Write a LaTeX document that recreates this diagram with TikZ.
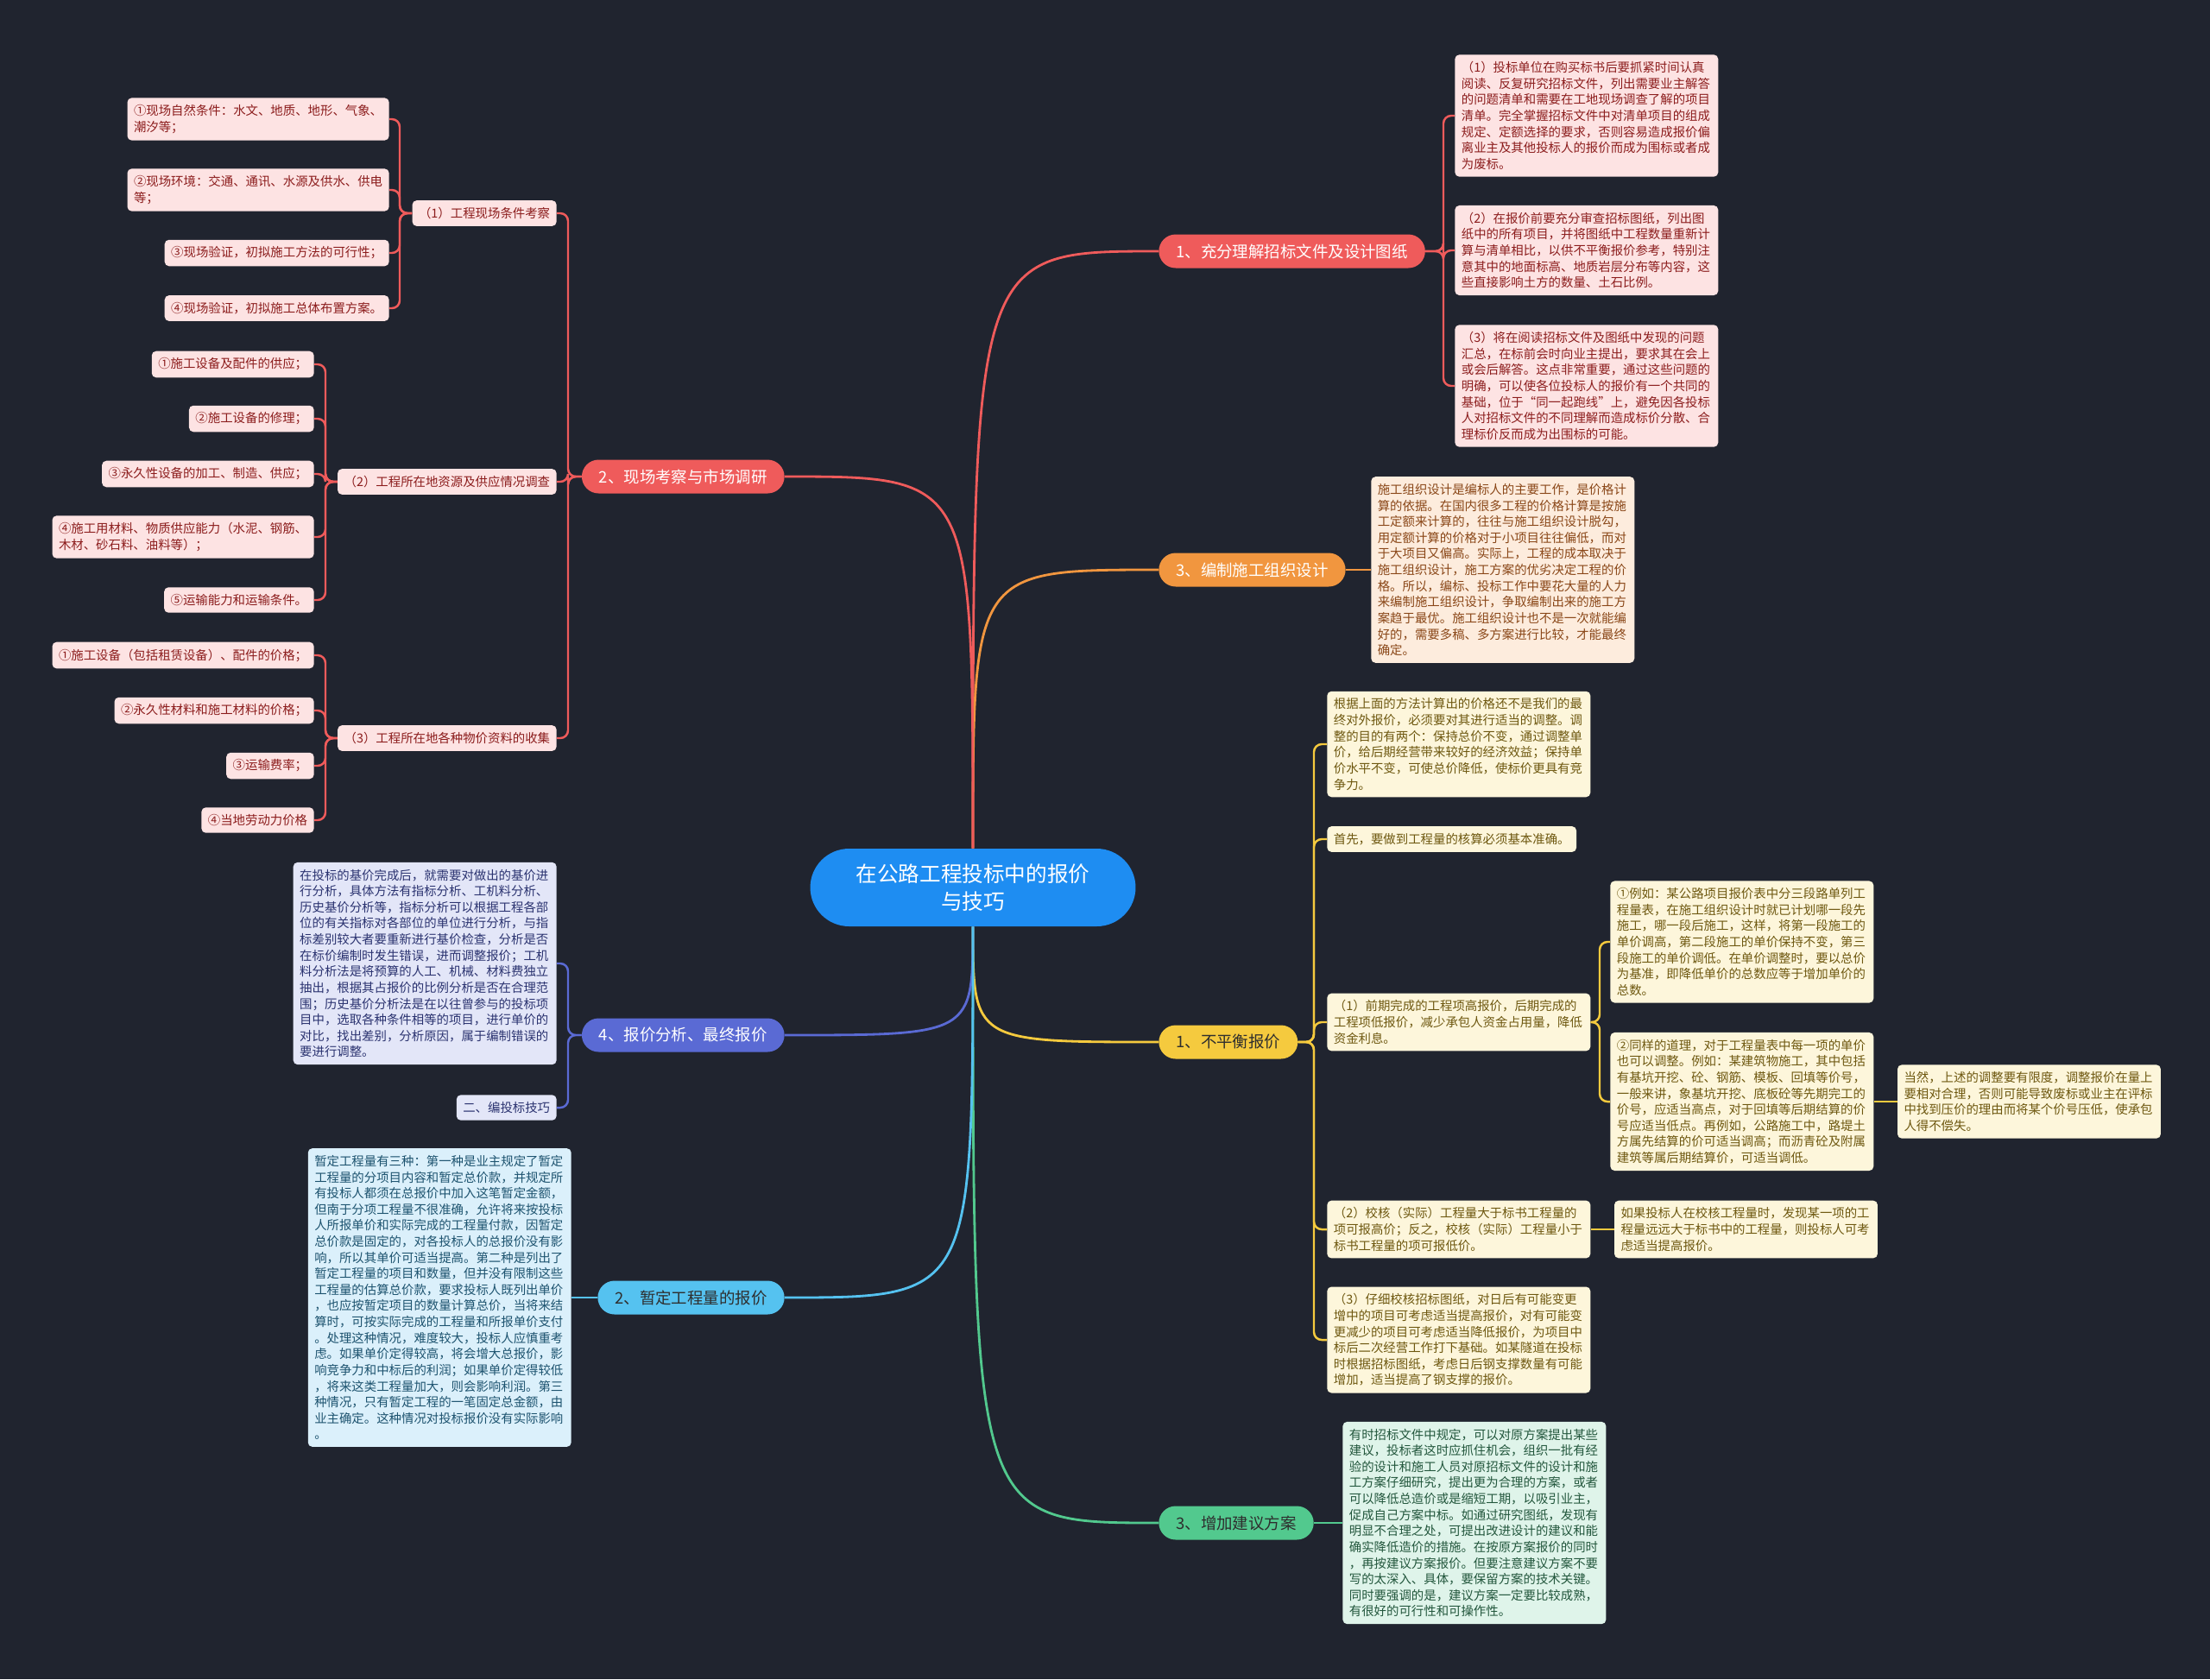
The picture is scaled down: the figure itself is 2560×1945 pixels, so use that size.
\documentclass[tikz,border=0pt]{standalone}
\usepackage{fontspec}
\setmainfont{Noto Sans CJK SC}
\usetikzlibrary{positioning, calc}

\definecolor{fondo}{HTML}{20242F}
\definecolor{azulC}{HTML}{1E8DF2}
\definecolor{rojoC}{HTML}{EF5B5B}
\definecolor{naranjaC}{HTML}{F1963F}
\definecolor{amarilloC}{HTML}{F5CA3E}
\definecolor{verdeC}{HTML}{52C98E}
\definecolor{indigoC}{HTML}{5A6AD4}
\definecolor{celesteC}{HTML}{55C2F0}
\definecolor{oscuroT}{HTML}{2E2E2E}
\definecolor{rosaF}{HTML}{FDE3E3}
\definecolor{rosaT}{HTML}{8C1D1D}
\definecolor{melocotonF}{HTML}{FDECDD}
\definecolor{melocotonT}{HTML}{8A4718}
\definecolor{cremaF}{HTML}{FDF6DB}
\definecolor{cremaT}{HTML}{6E5810}
\definecolor{mentaF}{HTML}{DFF4EA}
\definecolor{mentaT}{HTML}{23573D}
\definecolor{lavandaF}{HTML}{E3E6F8}
\definecolor{lavandaT}{HTML}{2B3370}
\definecolor{cieloF}{HTML}{DBF0FB}
\definecolor{cieloT}{HTML}{1D536F}

\tikzset{
	rama/.style={rounded corners=0.39cm, minimum height=0.78cm, inner xsep=0.4cm, inner ysep=0pt, font=\fontsize{10.5}{12}\selectfont},
	caja/.style={rounded corners=0.1cm, inner xsep=0.15cm, inner ysep=0.16cm, align=left, font=\fontsize{8.2}{10.6}\selectfont},
	ancha/.style={caja, text width=5.8cm},
	rosa/.style={caja, fill=rosaF, text=rosaT},
	melocoton/.style={ancha, fill=melocotonF, text=melocotonT},
	crema/.style={caja, fill=cremaF, text=cremaT},
	menta/.style={ancha, fill=mentaF, text=mentaT},
	lavanda/.style={caja, fill=lavandaF, text=lavandaT},
	cielo/.style={ancha, fill=cieloF, text=cieloT},
	enlace/.style={line width=1.4pt, rounded corners=0.18cm},
	curva/.style={line width=1.6pt}
}

\begin{document}
\begin{tikzpicture}[x=0.02cm, y=-0.02cm]
	
	\fill[fondo] (0,0) rectangle (2560,1945);
	\useasboundingbox (0,0) rectangle (2560,1945);
	
	% Nodo central
	\node[fill=azulC, text=white, rounded corners=0.9cm, minimum width=7.54cm, minimum height=1.8cm, align=center, font=\fontsize{14}{18.5}\selectfont] (C) at (1127,1028) {在公路工程投标中的报价\\与技巧};
	
	% Ramas derechas
	\node[rama, fill=rojoC, text=white, anchor=west] (R1) at (1342,291) {1、充分理解招标文件及设计图纸};
	\node[rama, fill=naranjaC, text=white, anchor=west] (R2) at (1342,660) {3、编制施工组织设计};
	\node[rama, fill=amarilloC, text=oscuroT, anchor=west] (R3) at (1342,1207) {1、不平衡报价};
	\node[rama, fill=verdeC, text=oscuroT, anchor=west] (R4) at (1342,1764) {3、增加建议方案};
	
	% Ramas izquierdas
	\node[rama, fill=rojoC, text=white, anchor=east] (L1) at (909,552) {2、现场考察与市场调研};
	\node[rama, fill=indigoC, text=white, anchor=east] (L2) at (909,1199) {4、报价分析、最终报价};
	\node[rama, fill=celesteC, text=oscuroT, anchor=east] (L3) at (909,1503) {2、暂定工程量的报价};
	
	% Rama 1: cajas
	\node[rosa, text width=5.8cm, anchor=west] (R1a) at (1685,134) {（1）投标单位在购买标书后要抓紧时间认真\\阅读、反复研究招标文件，列出需要业主解答\\的问题清单和需要在工地现场调查了解的项目\\清单。完全掌握招标文件中对清单项目的组成\\规定、定额选择的要求，否则容易造成报价偏\\离业主及其他投标人的报价而成为围标或者成\\为废标。};
	\node[rosa, text width=5.8cm, anchor=west] (R1b) at (1685,290) {（2）在报价前要充分审查招标图纸，列出图\\纸中的所有项目，并将图纸中工程数量重新计\\算与清单相比，以供不平衡报价参考，特别注\\意其中的地面标高、地质岩层分布等内容，这\\些直接影响土方的数量、土石比例。};
	\node[rosa, text width=5.8cm, anchor=west] (R1c) at (1685,447) {（3）将在阅读招标文件及图纸中发现的问题\\汇总，在标前会时向业主提出，要求其在会上\\或会后解答。这点非常重要，通过这些问题的\\明确，可以使各位投标人的报价有一个共同的\\基础，位于“同一起跑线”上，避免因各投标\\人对招标文件的不同理解而造成标价分散、合\\理标价反而成为出围标的可能。};
	
	% Rama 3: organizacion
	\node[melocoton, right=0.58cm of R2] (R2a) {施工组织设计是编标人的主要工作，是价格计\\算的依据。在国内很多工程的价格计算是按施\\工定额来计算的，往往与施工组织设计脱勾，\\用定额计算的价格对于小项目往往偏低，而对\\于大项目又偏高。实际上，工程的成本取决于\\施工组织设计，施工方案的优劣决定工程的价\\格。所以，编标、投标工作中要花大量的人力\\来编制施工组织设计，争取编制出来的施工方\\案趋于最优。施工组织设计也不是一次就能编\\好的，需要多稿、多方案进行比较，才能最终\\确定。};
	
	% Rama no balanceada
	\node[crema, text width=5.8cm, anchor=west] (R3a) at (1537,862) {根据上面的方法计算出的价格还不是我们的最\\终对外报价，必须要对其进行适当的调整。调\\整的目的有两个：保持总价不变，通过调整单\\价，给后期经营带来较好的经济效益；保持单\\价水平不变，可使总价降低，使标价更具有竞\\争力。};
	\node[crema, anchor=west] (R3b) at (1537,972) {首先，要做到工程量的核算必须基本准确。};
	\node[crema, text width=5.8cm, anchor=west] (R3c) at (1537,1184) {（1）前期完成的工程项高报价，后期完成的\\工程项低报价，减少承包人资金占用量，降低\\资金利息。};
	\node[crema, text width=5.8cm, anchor=west] (R3d) at (1537,1424) {（2）校核（实际）工程量大于标书工程量的\\项可报高价；反之，校核（实际）工程量小于\\标书工程量的项可报低价。};
	\node[crema, text width=5.8cm, anchor=west] (R3e) at (1537,1552) {（3）仔细校核招标图纸，对日后有可能变更\\增中的项目可考虑适当提高报价，对有可能变\\更减少的项目可考虑适当降低报价，为项目中\\标后二次经营工作打下基础。如某隧道在投标\\时根据招标图纸，考虑日后钢支撑数量有可能\\增加，适当提高了钢支撑的报价。};
	\node[crema, text width=5.8cm, anchor=west] (R3c1) at (1865,1091) {①例如：某公路项目报价表中分三段路单列工\\程量表，在施工组织设计时就已计划哪一段先\\施工，哪一段后施工，这样，将第一段施工的\\单价调高，第二段施工的单价保持不变，第三\\段施工的单价调低。在单价调整时，要以总价\\为基准，即降低单价的总数应等于增加单价的\\总数。};
	\node[crema, text width=5.8cm, anchor=west] (R3c2) at (1865,1276) {②同样的道理，对于工程量表中每一项的单价\\也可以调整。例如：某建筑物施工，其中包括\\有基坑开挖、砼、钢筋、模板、回填等价号，\\一般来讲，象基坑开挖、底板砼等先期完工的\\价号，应适当高点，对于回填等后期结算的价\\号应适当低点。再例如，公路施工中，路堤土\\方属先结算的价可适当调高；而沥青砼及附属\\建筑等属后期结算价，可适当调低。};
	\node[crema, text width=5.8cm, right=0.54cm of R3c2] (R3c2a) {当然，上述的调整要有限度，调整报价在量上\\要相对合理，否则可能导致废标或业主在评标\\中找到压价的理由而将某个价号压低，使承包\\人得不偿失。};
	\node[crema, text width=5.8cm, right=0.54cm of R3d] (R3d1) {如果投标人在校核工程量时，发现某一项的工\\程量远远大于标书中的工程量，则投标人可考\\虑适当提高报价。};
	
	% Rama propuesta
	\node[menta, right=0.66cm of R4] (R4a) {有时招标文件中规定，可以对原方案提出某些\\建议，投标者这时应抓住机会，组织一批有经\\验的设计和施工人员对原招标文件的设计和施\\工方案仔细研究，提出更为合理的方案，或者\\可以降低总造价或是缩短工期，以吸引业主，\\促成自己方案中标。如通过研究图纸，发现有\\明显不合理之处，可提出改进设计的建议和能\\确实降低造价的措施。在按原方案报价的同时\\，再按建议方案报价。但要注意建议方案不要\\写的太深入、具体，要保留方案的技术关键。\\同时要强调的是，建议方案一定要比较成熟，\\有很好的可行性和可操作性。};
	
	% Rama izquierda: estudio de campo
	\node[rosa, anchor=east] (L1a) at (645,247) {（1）工程现场条件考察};
	\node[rosa, anchor=east] (L1b) at (645,558) {（2）工程所在地资源及供应情况调查};
	\node[rosa, anchor=east] (L1c) at (645,855) {（3）工程所在地各种物价资料的收集};
	
	\node[rosa, anchor=east] (L1a1) at (451,138) {①现场自然条件：水文、地质、地形、气象、\\潮汐等；};
	\node[rosa, anchor=east] (L1a2) at (451,220) {②现场环境：交通、通讯、水源及供水、供电\\等；};
	\node[rosa, anchor=east] (L1a3) at (451,293) {③现场验证，初拟施工方法的可行性；};
	\node[rosa, anchor=east] (L1a4) at (451,357) {④现场验证，初拟施工总体布置方案。};
	
	\node[rosa, anchor=east] (L1b1) at (364,422) {①施工设备及配件的供应；};
	\node[rosa, anchor=east] (L1b2) at (364,485) {②施工设备的修理；};
	\node[rosa, anchor=east] (L1b3) at (364,549) {③永久性设备的加工、制造、供应；};
	\node[rosa, anchor=east] (L1b4) at (364,622) {④施工用材料、物质供应能力（水泥、钢筋、\\木材、砂石料、油料等）；};
	\node[rosa, anchor=east] (L1b5) at (364,695) {⑤运输能力和运输条件。};
	
	\node[rosa, anchor=east] (L1c1) at (364,759) {①施工设备（包括租赁设备）、配件的价格；};
	\node[rosa, anchor=east] (L1c2) at (364,823) {②永久性材料和施工材料的价格；};
	\node[rosa, anchor=east] (L1c3) at (364,887) {③运输费率；};
	\node[rosa, anchor=east] (L1c4) at (364,950) {④当地劳动力价格};
	
	% Rama izquierda: analisis
	\node[lavanda, text width=5.8cm, anchor=east] (L2a) at (645,1116) {在投标的基价完成后，就需要对做出的基价进\\行分析，具体方法有指标分析、工机料分析、\\历史基价分析等，指标分析可以根据工程各部\\位的有关指标对各部位的单位进行分析，与指\\标差别较大者要重新进行基价检查，分析是否\\在标价编制时发生错误，进而调整报价；工机\\料分析法是将预算的人工、机械、材料费独立\\抽出，根据其占报价的比例分析是否在合理范\\围；历史基价分析法是在以往曾参与的投标项\\目中，选取各种条件相等的项目，进行单价的\\对比，找出差别，分析原因，属于编制错误的\\要进行调整。};
	\node[lavanda, anchor=east] (L2b) at (645,1283) {二、编投标技巧};
	
	% Rama izquierda: cantidades provisionales
	\node[cielo, left=0.6cm of L3] (L3a) {暂定工程量有三种：第一种是业主规定了暂定\\工程量的分项目内容和暂定总价款，并规定所\\有投标人都须在总报价中加入这笔暂定金额，\\但南于分项工程量不很准确，允许将来按投标\\人所报单价和实际完成的工程量付款，因暂定\\总价款是固定的，对各投标人的总报价没有影\\响，所以其单价可适当提高。第二种是列出了\\暂定工程量的项目和数量，但并没有限制这些\\工程量的估算总价款，要求投标人既列出单价\\，也应按暂定项目的数量计算总价，当将来结\\算时，可按实际完成的工程量和所报单价支付\\。处理这种情况，难度较大，投标人应慎重考\\虑。如果单价定得较高，将会增大总报价，影\\响竞争力和中标后的利润；如果单价定得较低\\，将来这类工程量加大，则会影响利润。第三\\种情况，只有暂定工程的一笔固定总金额，由\\业主确定。这种情况对投标报价没有实际影响\\。};
	
	% Curvas desde el centro
	\foreach \r/\c in {R1/rojoC, R2/naranjaC}
	\draw[curva, \c] (C.north) .. controls (C.north |- \r.west) .. (\r.west);
	\foreach \r/\c in {R3/amarilloC, R4/verdeC}
	\draw[curva, \c] (C.south) .. controls (C.south |- \r.west) .. (\r.west);
	\draw[curva, rojoC] (C.north) .. controls (C.north |- L1.east) .. (L1.east);
	\foreach \r/\c in {L2/indigoC, L3/celesteC}
	\draw[curva, \c] (C.south) .. controls (C.south |- \r.east) .. (\r.east);
	
	% Conectores de llave
	\foreach \h in {R1a,R1b,R1c}
	\draw[enlace, rojoC] (R1.east) -| ($(\h.west)+(-13,0)$) -- (\h.west);
	\foreach \h in {R3a,R3b,R3c,R3d,R3e}
	\draw[enlace, amarilloC] (R3.east) -| ($(\h.west)+(-15,0)$) -- (\h.west);
	\foreach \h in {R3c1,R3c2}
	\draw[enlace, amarilloC] (R3c.east) -| ($(\h.west)+(-12,0)$) -- (\h.west);
	\foreach \h in {L1a,L1b,L1c}
	\draw[enlace, rojoC] (L1.west) -| ($(\h.east)+(13,0)$) -- (\h.east);
	\foreach \h in {L1a1,L1a2,L1a3,L1a4}
	\draw[enlace, rojoC] (L1a.west) -| ($(\h.east)+(12,0)$) -- (\h.east);
	\foreach \h in {L1b1,L1b2,L1b3,L1b4,L1b5}
	\draw[enlace, rojoC] (L1b.west) -| ($(\h.east)+(13,0)$) -- (\h.east);
	\foreach \h in {L1c1,L1c2,L1c3,L1c4}
	\draw[enlace, rojoC] (L1c.west) -| ($(\h.east)+(13,0)$) -- (\h.east);
	\foreach \h in {L2a,L2b}
	\draw[enlace, indigoC] (L2.west) -| ($(\h.east)+(13,0)$) -- (\h.east);
	
	% Conectores rectos
	\draw[enlace, naranjaC] (R2.east) -- (R2a.west);
	\draw[enlace, verdeC] (R4.east) -- (R4a.west);
	\draw[enlace, amarilloC] (R3c2.east) -- (R3c2a.west);
	\draw[enlace, amarilloC] (R3d.east) -- (R3d1.west);
	\draw[enlace, celesteC] (L3.west) -- (L3a.east);
	
\end{tikzpicture}
\end{document}
